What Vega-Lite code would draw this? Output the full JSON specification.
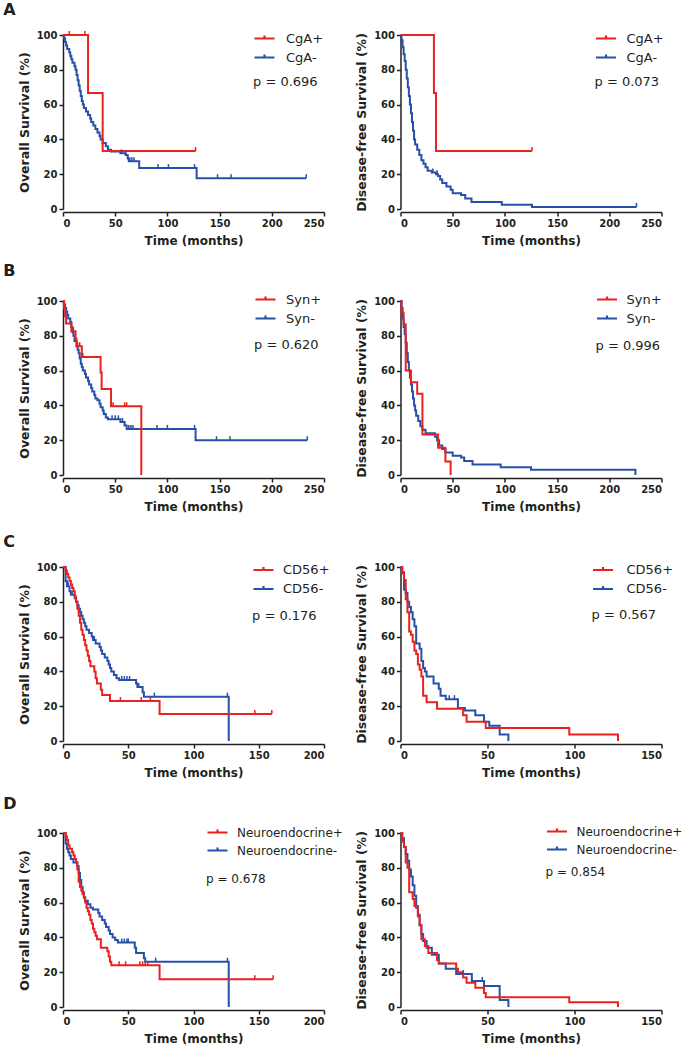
{
"$schema": "https://vega.github.io/schema/vega-lite/v6.json",
"padding": {"left": 3, "top": 2, "right": 2, "bottom": 2},
"background": "white",
"config": {
 "font": "DejaVu Sans",
 "view": {"stroke": null},
 "axis": {"grid": false, "domainColor": "#231f20", "domainWidth": 1.5, "tickColor": "#231f20", "tickWidth": 1.5, "tickSize": 4, "labelFont": "DejaVu Sans", "labelFontWeight": "bold", "labelFontSize": 10, "labelColor": "#231f20", "labelPadding": 2, "titleFont": "DejaVu Sans", "titleFontWeight": "bold", "titleFontSize": 12.5, "titleColor": "#231f20"},
 "axisX": {"offset": 3, "titlePadding": 7, "titleFontSize": 12},
 "axisY": {"titlePadding": 5},
 "legend": {"labelFont": "DejaVu Sans", "labelFontSize": 13, "labelColor": "#231f20", "symbolType": "M-1,0H1M0,0V-0.3", "symbolSize": 400, "symbolStrokeWidth": 2.2, "rowPadding": 0, "padding": 0, "orient": "none", "titleOrient": "bottom", "titleAnchor": "start", "titleFont": "DejaVu Sans", "titleFontWeight": "normal", "titleFontSize": 13, "titleColor": "#231f20", "titlePadding": 12, "titleLimit": 300},
 "title": {"anchor": "start", "frame": "bounds", "fontSize": 16, "fontWeight": "bold", "dx": -15, "offset": 9, "color": "#231f20", "font": "DejaVu Sans"}
},
"datasets": {
 "a1": [
  {"g":"CgA-","t":0,"s":100,"k":"s"},{"g":"CgA-","t":1,"s":98,"k":"s"},{"g":"CgA-","t":2,"s":96,"k":"s"},{"g":"CgA-","t":3,"s":94,"k":"s"},{"g":"CgA-","t":4,"s":92,"k":"s"},{"g":"CgA-","t":6,"s":90,"k":"s"},{"g":"CgA-","t":7,"s":88,"k":"s"},{"g":"CgA-","t":8,"s":86,"k":"s"},{"g":"CgA-","t":9,"s":84,"k":"s"},{"g":"CgA-","t":11,"s":82,"k":"s"},{"g":"CgA-","t":12,"s":80,"k":"s"},{"g":"CgA-","t":13,"s":77,"k":"s"},{"g":"CgA-","t":14,"s":74,"k":"s"},{"g":"CgA-","t":15,"s":71,"k":"s"},{"g":"CgA-","t":16,"s":68,"k":"s"},{"g":"CgA-","t":17,"s":65,"k":"s"},{"g":"CgA-","t":18,"s":62,"k":"s"},{"g":"CgA-","t":19,"s":60,"k":"s"},{"g":"CgA-","t":20,"s":58,"k":"s"},{"g":"CgA-","t":22,"s":56,"k":"s"},{"g":"CgA-","t":24,"s":54,"k":"s"},{"g":"CgA-","t":26,"s":52,"k":"s"},{"g":"CgA-","t":27,"s":50,"k":"s"},{"g":"CgA-","t":29,"s":48,"k":"s"},{"g":"CgA-","t":31,"s":46,"k":"s"},{"g":"CgA-","t":33,"s":44,"k":"s"},{"g":"CgA-","t":35,"s":42,"k":"s"},{"g":"CgA-","t":36,"s":40,"k":"s"},{"g":"CgA-","t":38,"s":38,"k":"s"},{"g":"CgA-","t":41,"s":36,"k":"s"},{"g":"CgA-","t":43,"s":34,"k":"s"},{"g":"CgA-","t":46,"s":33,"k":"s"},{"g":"CgA-","t":55,"s":32,"k":"s"},{"g":"CgA-","t":60,"s":31,"k":"s"},{"g":"CgA-","t":62,"s":29,"k":"s"},{"g":"CgA-","t":63,"s":27.5,"k":"s"},{"g":"CgA-","t":73,"s":23.5,"k":"s"},{"g":"CgA-","t":128,"s":17.7,"k":"s"},{"g":"CgA-","t":233,"s":17.7,"k":"s"},
  {"g":"CgA-","t":56,"s":32,"k":"c"},{"g":"CgA-","t":60,"s":31,"k":"c"},{"g":"CgA-","t":64,"s":27.5,"k":"c"},{"g":"CgA-","t":66,"s":27.5,"k":"c"},{"g":"CgA-","t":68,"s":27.5,"k":"c"},{"g":"CgA-","t":91,"s":23.5,"k":"c"},{"g":"CgA-","t":101,"s":23.5,"k":"c"},{"g":"CgA-","t":126,"s":23.5,"k":"c"},{"g":"CgA-","t":148,"s":17.7,"k":"c"},{"g":"CgA-","t":161,"s":17.7,"k":"c"},{"g":"CgA-","t":233,"s":17.7,"k":"c"},
  {"g":"CgA+","t":0,"s":100,"k":"s"},{"g":"CgA+","t":24,"s":66.7,"k":"s"},{"g":"CgA+","t":38,"s":33.3,"k":"s"},{"g":"CgA+","t":127,"s":33.3,"k":"s"},
  {"g":"CgA+","t":6,"s":100,"k":"c"},{"g":"CgA+","t":21,"s":100,"k":"c"},{"g":"CgA+","t":127,"s":33.3,"k":"c"}
 ],
 "a2": [
  {"g":"CgA-","t":0,"s":100,"k":"s"},{"g":"CgA-","t":1,"s":97,"k":"s"},{"g":"CgA-","t":2,"s":93,"k":"s"},{"g":"CgA-","t":3,"s":89,"k":"s"},{"g":"CgA-","t":4,"s":85,"k":"s"},{"g":"CgA-","t":5,"s":80,"k":"s"},{"g":"CgA-","t":6,"s":75,"k":"s"},{"g":"CgA-","t":7,"s":70,"k":"s"},{"g":"CgA-","t":8,"s":65,"k":"s"},{"g":"CgA-","t":9,"s":60,"k":"s"},{"g":"CgA-","t":10,"s":55,"k":"s"},{"g":"CgA-","t":11,"s":50,"k":"s"},{"g":"CgA-","t":12,"s":45,"k":"s"},{"g":"CgA-","t":13,"s":40,"k":"s"},{"g":"CgA-","t":14,"s":37,"k":"s"},{"g":"CgA-","t":16,"s":34,"k":"s"},{"g":"CgA-","t":18,"s":31,"k":"s"},{"g":"CgA-","t":20,"s":28,"k":"s"},{"g":"CgA-","t":22,"s":26,"k":"s"},{"g":"CgA-","t":24,"s":24,"k":"s"},{"g":"CgA-","t":26,"s":22,"k":"s"},{"g":"CgA-","t":30,"s":21,"k":"s"},{"g":"CgA-","t":34,"s":20,"k":"s"},{"g":"CgA-","t":36,"s":19,"k":"s"},{"g":"CgA-","t":38,"s":17,"k":"s"},{"g":"CgA-","t":40,"s":15,"k":"s"},{"g":"CgA-","t":44,"s":13,"k":"s"},{"g":"CgA-","t":48,"s":11,"k":"s"},{"g":"CgA-","t":50,"s":9,"k":"s"},{"g":"CgA-","t":58,"s":8,"k":"s"},{"g":"CgA-","t":62,"s":6,"k":"s"},{"g":"CgA-","t":68,"s":4,"k":"s"},{"g":"CgA-","t":97,"s":2.5,"k":"s"},{"g":"CgA-","t":126,"s":1.2,"k":"s"},{"g":"CgA-","t":226,"s":1.2,"k":"s"},
  {"g":"CgA-","t":31,"s":21,"k":"c"},{"g":"CgA-","t":35,"s":20,"k":"c"},{"g":"CgA-","t":226,"s":1.2,"k":"c"},
  {"g":"CgA+","t":0,"s":100,"k":"s"},{"g":"CgA+","t":32,"s":66.7,"k":"s"},{"g":"CgA+","t":34,"s":33.3,"k":"s"},{"g":"CgA+","t":126,"s":33.3,"k":"s"},
  {"g":"CgA+","t":126,"s":33.3,"k":"c"}
 ],
 "b1": [
  {"g":"Syn-","t":0,"s":100,"k":"s"},{"g":"Syn-","t":1,"s":98,"k":"s"},{"g":"Syn-","t":2,"s":96,"k":"s"},{"g":"Syn-","t":3,"s":94,"k":"s"},{"g":"Syn-","t":4,"s":92,"k":"s"},{"g":"Syn-","t":5,"s":90,"k":"s"},{"g":"Syn-","t":7,"s":88,"k":"s"},{"g":"Syn-","t":8,"s":85,"k":"s"},{"g":"Syn-","t":9,"s":82,"k":"s"},{"g":"Syn-","t":10,"s":80,"k":"s"},{"g":"Syn-","t":11,"s":77,"k":"s"},{"g":"Syn-","t":13,"s":74,"k":"s"},{"g":"Syn-","t":14,"s":72,"k":"s"},{"g":"Syn-","t":15,"s":70,"k":"s"},{"g":"Syn-","t":16,"s":67,"k":"s"},{"g":"Syn-","t":17,"s":64,"k":"s"},{"g":"Syn-","t":18,"s":62,"k":"s"},{"g":"Syn-","t":19,"s":60,"k":"s"},{"g":"Syn-","t":21,"s":58,"k":"s"},{"g":"Syn-","t":22,"s":56,"k":"s"},{"g":"Syn-","t":24,"s":54,"k":"s"},{"g":"Syn-","t":25,"s":52,"k":"s"},{"g":"Syn-","t":27,"s":50,"k":"s"},{"g":"Syn-","t":28,"s":48,"k":"s"},{"g":"Syn-","t":30,"s":46,"k":"s"},{"g":"Syn-","t":31,"s":44,"k":"s"},{"g":"Syn-","t":33,"s":43,"k":"s"},{"g":"Syn-","t":35,"s":41,"k":"s"},{"g":"Syn-","t":36,"s":39,"k":"s"},{"g":"Syn-","t":38,"s":37,"k":"s"},{"g":"Syn-","t":39,"s":35,"k":"s"},{"g":"Syn-","t":41,"s":33,"k":"s"},{"g":"Syn-","t":43,"s":32,"k":"s"},{"g":"Syn-","t":55,"s":30.5,"k":"s"},{"g":"Syn-","t":59,"s":28.5,"k":"s"},{"g":"Syn-","t":61,"s":26.5,"k":"s"},{"g":"Syn-","t":127,"s":20,"k":"s"},{"g":"Syn-","t":234,"s":20,"k":"s"},
  {"g":"Syn-","t":47,"s":32,"k":"c"},{"g":"Syn-","t":50,"s":32,"k":"c"},{"g":"Syn-","t":53,"s":32,"k":"c"},{"g":"Syn-","t":57,"s":30.5,"k":"c"},{"g":"Syn-","t":63,"s":26.5,"k":"c"},{"g":"Syn-","t":65,"s":26.5,"k":"c"},{"g":"Syn-","t":67,"s":26.5,"k":"c"},{"g":"Syn-","t":90,"s":26.5,"k":"c"},{"g":"Syn-","t":100,"s":26.5,"k":"c"},{"g":"Syn-","t":126,"s":26.5,"k":"c"},{"g":"Syn-","t":147,"s":20,"k":"c"},{"g":"Syn-","t":160,"s":20,"k":"c"},{"g":"Syn-","t":234,"s":20,"k":"c"},
  {"g":"Syn+","t":0,"s":100,"k":"s"},{"g":"Syn+","t":1,"s":95.7,"k":"s"},{"g":"Syn+","t":2,"s":91.3,"k":"s"},{"g":"Syn+","t":3,"s":87,"k":"s"},{"g":"Syn+","t":8,"s":82.6,"k":"s"},{"g":"Syn+","t":12,"s":78.3,"k":"s"},{"g":"Syn+","t":13,"s":74,"k":"s"},{"g":"Syn+","t":18,"s":67.8,"k":"s"},{"g":"Syn+","t":36,"s":58.9,"k":"s"},{"g":"Syn+","t":37,"s":49.4,"k":"s"},{"g":"Syn+","t":46,"s":39.5,"k":"s"},{"g":"Syn+","t":75,"s":0,"k":"s"},
  {"g":"Syn+","t":10,"s":82.6,"k":"c"},{"g":"Syn+","t":14,"s":74,"k":"c"},{"g":"Syn+","t":16,"s":74,"k":"c"},{"g":"Syn+","t":19,"s":67.8,"k":"c"},{"g":"Syn+","t":48,"s":39.5,"k":"c"},{"g":"Syn+","t":59,"s":39.5,"k":"c"},{"g":"Syn+","t":61,"s":39.5,"k":"c"}
 ],
 "b2": [
  {"g":"Syn-","t":0,"s":100,"k":"s"},{"g":"Syn-","t":1,"s":96,"k":"s"},{"g":"Syn-","t":2,"s":90,"k":"s"},{"g":"Syn-","t":3,"s":85,"k":"s"},{"g":"Syn-","t":4,"s":81,"k":"s"},{"g":"Syn-","t":5,"s":76,"k":"s"},{"g":"Syn-","t":6,"s":70,"k":"s"},{"g":"Syn-","t":7,"s":65,"k":"s"},{"g":"Syn-","t":8,"s":60,"k":"s"},{"g":"Syn-","t":9,"s":56,"k":"s"},{"g":"Syn-","t":10,"s":52,"k":"s"},{"g":"Syn-","t":11,"s":48,"k":"s"},{"g":"Syn-","t":12,"s":44,"k":"s"},{"g":"Syn-","t":13,"s":40,"k":"s"},{"g":"Syn-","t":14,"s":37,"k":"s"},{"g":"Syn-","t":15,"s":34,"k":"s"},{"g":"Syn-","t":17,"s":31,"k":"s"},{"g":"Syn-","t":19,"s":28,"k":"s"},{"g":"Syn-","t":21,"s":26,"k":"s"},{"g":"Syn-","t":24,"s":24,"k":"s"},{"g":"Syn-","t":33,"s":22,"k":"s"},{"g":"Syn-","t":35,"s":20,"k":"s"},{"g":"Syn-","t":37,"s":17,"k":"s"},{"g":"Syn-","t":40,"s":15,"k":"s"},{"g":"Syn-","t":43,"s":13,"k":"s"},{"g":"Syn-","t":50,"s":11,"k":"s"},{"g":"Syn-","t":58,"s":10,"k":"s"},{"g":"Syn-","t":61,"s":8,"k":"s"},{"g":"Syn-","t":69,"s":6,"k":"s"},{"g":"Syn-","t":96,"s":4.5,"k":"s"},{"g":"Syn-","t":125,"s":3,"k":"s"},{"g":"Syn-","t":225,"s":0,"k":"s"},
  {"g":"Syn+","t":0,"s":100,"k":"s"},{"g":"Syn+","t":1,"s":93.3,"k":"s"},{"g":"Syn+","t":3,"s":86.7,"k":"s"},{"g":"Syn+","t":5,"s":60,"k":"s"},{"g":"Syn+","t":10,"s":53.3,"k":"s"},{"g":"Syn+","t":16,"s":46.7,"k":"s"},{"g":"Syn+","t":21,"s":23.3,"k":"s"},{"g":"Syn+","t":36,"s":15.6,"k":"s"},{"g":"Syn+","t":43,"s":7.8,"k":"s"},{"g":"Syn+","t":48,"s":0,"k":"s"}
 ],
 "c1": [
  {"g":"CD56-","t":0,"s":100,"k":"s"},{"g":"CD56-","t":2,"s":92,"k":"s"},{"g":"CD56-","t":3,"s":89,"k":"s"},{"g":"CD56-","t":5,"s":86,"k":"s"},{"g":"CD56-","t":6,"s":84,"k":"s"},{"g":"CD56-","t":9,"s":82,"k":"s"},{"g":"CD56-","t":10,"s":80,"k":"s"},{"g":"CD56-","t":11,"s":78,"k":"s"},{"g":"CD56-","t":12,"s":76,"k":"s"},{"g":"CD56-","t":13,"s":74,"k":"s"},{"g":"CD56-","t":14,"s":72,"k":"s"},{"g":"CD56-","t":15,"s":70,"k":"s"},{"g":"CD56-","t":16,"s":68,"k":"s"},{"g":"CD56-","t":17,"s":66,"k":"s"},{"g":"CD56-","t":18,"s":64,"k":"s"},{"g":"CD56-","t":20,"s":62,"k":"s"},{"g":"CD56-","t":22,"s":60,"k":"s"},{"g":"CD56-","t":23,"s":58,"k":"s"},{"g":"CD56-","t":25,"s":56,"k":"s"},{"g":"CD56-","t":28,"s":54,"k":"s"},{"g":"CD56-","t":29,"s":52,"k":"s"},{"g":"CD56-","t":30,"s":50,"k":"s"},{"g":"CD56-","t":32,"s":48,"k":"s"},{"g":"CD56-","t":34,"s":46,"k":"s"},{"g":"CD56-","t":35,"s":44,"k":"s"},{"g":"CD56-","t":36,"s":42,"k":"s"},{"g":"CD56-","t":37,"s":40,"k":"s"},{"g":"CD56-","t":39,"s":38,"k":"s"},{"g":"CD56-","t":41,"s":36,"k":"s"},{"g":"CD56-","t":43,"s":35,"k":"s"},{"g":"CD56-","t":56,"s":33,"k":"s"},{"g":"CD56-","t":57,"s":31,"k":"s"},{"g":"CD56-","t":61,"s":28,"k":"s"},{"g":"CD56-","t":62,"s":25.5,"k":"s"},{"g":"CD56-","t":127,"s":0,"k":"s"},
  {"g":"CD56-","t":4,"s":89,"k":"c"},{"g":"CD56-","t":7,"s":84,"k":"c"},{"g":"CD56-","t":14,"s":72,"k":"c"},{"g":"CD56-","t":24,"s":58,"k":"c"},{"g":"CD56-","t":45,"s":35,"k":"c"},{"g":"CD56-","t":47,"s":35,"k":"c"},{"g":"CD56-","t":49,"s":35,"k":"c"},{"g":"CD56-","t":51,"s":35,"k":"c"},{"g":"CD56-","t":58,"s":31,"k":"c"},{"g":"CD56-","t":70,"s":25.5,"k":"c"},{"g":"CD56-","t":126,"s":25.5,"k":"c"},
  {"g":"CD56+","t":0,"s":100,"k":"s"},{"g":"CD56+","t":2,"s":98,"k":"s"},{"g":"CD56+","t":3,"s":96,"k":"s"},{"g":"CD56+","t":4,"s":94,"k":"s"},{"g":"CD56+","t":5,"s":92,"k":"s"},{"g":"CD56+","t":6,"s":90,"k":"s"},{"g":"CD56+","t":7,"s":88,"k":"s"},{"g":"CD56+","t":8,"s":86,"k":"s"},{"g":"CD56+","t":9,"s":83,"k":"s"},{"g":"CD56+","t":10,"s":80,"k":"s"},{"g":"CD56+","t":11,"s":76,"k":"s"},{"g":"CD56+","t":12,"s":72,"k":"s"},{"g":"CD56+","t":13,"s":68,"k":"s"},{"g":"CD56+","t":14,"s":64,"k":"s"},{"g":"CD56+","t":15,"s":61,"k":"s"},{"g":"CD56+","t":16,"s":58,"k":"s"},{"g":"CD56+","t":17,"s":55,"k":"s"},{"g":"CD56+","t":18,"s":52,"k":"s"},{"g":"CD56+","t":19,"s":49,"k":"s"},{"g":"CD56+","t":20,"s":46,"k":"s"},{"g":"CD56+","t":21,"s":43,"k":"s"},{"g":"CD56+","t":24,"s":40,"k":"s"},{"g":"CD56+","t":25,"s":36,"k":"s"},{"g":"CD56+","t":26,"s":33,"k":"s"},{"g":"CD56+","t":29,"s":29.5,"k":"s"},{"g":"CD56+","t":30,"s":26.5,"k":"s"},{"g":"CD56+","t":36,"s":23,"k":"s"},{"g":"CD56+","t":74,"s":15.5,"k":"s"},{"g":"CD56+","t":160,"s":15.5,"k":"s"},
  {"g":"CD56+","t":44,"s":23,"k":"c"},{"g":"CD56+","t":60,"s":23,"k":"c"},{"g":"CD56+","t":67,"s":23,"k":"c"},{"g":"CD56+","t":147,"s":15.5,"k":"c"},{"g":"CD56+","t":160,"s":15.5,"k":"c"}
 ],
 "c2": [
  {"g":"CD56-","t":0,"s":100,"k":"s"},{"g":"CD56-","t":1,"s":97,"k":"s"},{"g":"CD56-","t":2,"s":87,"k":"s"},{"g":"CD56-","t":3,"s":85,"k":"s"},{"g":"CD56-","t":4,"s":80,"k":"s"},{"g":"CD56-","t":5,"s":77,"k":"s"},{"g":"CD56-","t":6,"s":74,"k":"s"},{"g":"CD56-","t":7,"s":70,"k":"s"},{"g":"CD56-","t":8,"s":66,"k":"s"},{"g":"CD56-","t":9,"s":56,"k":"s"},{"g":"CD56-","t":11,"s":53,"k":"s"},{"g":"CD56-","t":12,"s":46,"k":"s"},{"g":"CD56-","t":13,"s":42,"k":"s"},{"g":"CD56-","t":14,"s":40,"k":"s"},{"g":"CD56-","t":15,"s":37,"k":"s"},{"g":"CD56-","t":19,"s":33,"k":"s"},{"g":"CD56-","t":22,"s":30,"k":"s"},{"g":"CD56-","t":23,"s":26,"k":"s"},{"g":"CD56-","t":26,"s":24,"k":"s"},{"g":"CD56-","t":33,"s":19,"k":"s"},{"g":"CD56-","t":37,"s":17.5,"k":"s"},{"g":"CD56-","t":43,"s":14.8,"k":"s"},{"g":"CD56-","t":48,"s":11,"k":"s"},{"g":"CD56-","t":51,"s":8.8,"k":"s"},{"g":"CD56-","t":57,"s":3.7,"k":"s"},{"g":"CD56-","t":62,"s":0,"k":"s"},
  {"g":"CD56-","t":28,"s":24,"k":"c"},{"g":"CD56-","t":31,"s":24,"k":"c"},
  {"g":"CD56+","t":0,"s":100,"k":"s"},{"g":"CD56+","t":1,"s":96.3,"k":"s"},{"g":"CD56+","t":2,"s":92.6,"k":"s"},{"g":"CD56+","t":3,"s":81.5,"k":"s"},{"g":"CD56+","t":4,"s":74,"k":"s"},{"g":"CD56+","t":5,"s":63,"k":"s"},{"g":"CD56+","t":6,"s":61,"k":"s"},{"g":"CD56+","t":7,"s":57,"k":"s"},{"g":"CD56+","t":8,"s":52,"k":"s"},{"g":"CD56+","t":9,"s":50,"k":"s"},{"g":"CD56+","t":10,"s":44,"k":"s"},{"g":"CD56+","t":11,"s":41,"k":"s"},{"g":"CD56+","t":12,"s":37,"k":"s"},{"g":"CD56+","t":13,"s":26,"k":"s"},{"g":"CD56+","t":15,"s":22.2,"k":"s"},{"g":"CD56+","t":21,"s":18.5,"k":"s"},{"g":"CD56+","t":36,"s":14.8,"k":"s"},{"g":"CD56+","t":38,"s":11.1,"k":"s"},{"g":"CD56+","t":49,"s":7.4,"k":"s"},{"g":"CD56+","t":97,"s":3.7,"k":"s"},{"g":"CD56+","t":125,"s":0,"k":"s"}
 ],
 "d1": [
  {"g":"Neuroendocrine-","t":0,"s":100,"k":"s"},{"g":"Neuroendocrine-","t":2,"s":94,"k":"s"},{"g":"Neuroendocrine-","t":3,"s":91,"k":"s"},{"g":"Neuroendocrine-","t":4,"s":89,"k":"s"},{"g":"Neuroendocrine-","t":5,"s":87,"k":"s"},{"g":"Neuroendocrine-","t":6,"s":85,"k":"s"},{"g":"Neuroendocrine-","t":8,"s":83,"k":"s"},{"g":"Neuroendocrine-","t":11,"s":81,"k":"s"},{"g":"Neuroendocrine-","t":12,"s":77,"k":"s"},{"g":"Neuroendocrine-","t":13,"s":73,"k":"s"},{"g":"Neuroendocrine-","t":14,"s":69,"k":"s"},{"g":"Neuroendocrine-","t":15,"s":66,"k":"s"},{"g":"Neuroendocrine-","t":16,"s":63,"k":"s"},{"g":"Neuroendocrine-","t":17,"s":61,"k":"s"},{"g":"Neuroendocrine-","t":19,"s":59,"k":"s"},{"g":"Neuroendocrine-","t":21,"s":57,"k":"s"},{"g":"Neuroendocrine-","t":23,"s":56,"k":"s"},{"g":"Neuroendocrine-","t":27,"s":54,"k":"s"},{"g":"Neuroendocrine-","t":28,"s":52,"k":"s"},{"g":"Neuroendocrine-","t":30,"s":50,"k":"s"},{"g":"Neuroendocrine-","t":32,"s":48,"k":"s"},{"g":"Neuroendocrine-","t":33,"s":46,"k":"s"},{"g":"Neuroendocrine-","t":35,"s":44,"k":"s"},{"g":"Neuroendocrine-","t":36,"s":42,"k":"s"},{"g":"Neuroendocrine-","t":38,"s":40,"k":"s"},{"g":"Neuroendocrine-","t":40,"s":38.5,"k":"s"},{"g":"Neuroendocrine-","t":42,"s":37,"k":"s"},{"g":"Neuroendocrine-","t":55,"s":34,"k":"s"},{"g":"Neuroendocrine-","t":56,"s":31,"k":"s"},{"g":"Neuroendocrine-","t":62,"s":28,"k":"s"},{"g":"Neuroendocrine-","t":63,"s":26,"k":"s"},{"g":"Neuroendocrine-","t":127,"s":0,"k":"s"},
  {"g":"Neuroendocrine-","t":45,"s":37,"k":"c"},{"g":"Neuroendocrine-","t":47,"s":37,"k":"c"},{"g":"Neuroendocrine-","t":49,"s":37,"k":"c"},{"g":"Neuroendocrine-","t":50,"s":37,"k":"c"},{"g":"Neuroendocrine-","t":71,"s":26,"k":"c"},{"g":"Neuroendocrine-","t":126,"s":26,"k":"c"},
  {"g":"Neuroendocrine+","t":0,"s":100,"k":"s"},{"g":"Neuroendocrine+","t":2,"s":98,"k":"s"},{"g":"Neuroendocrine+","t":3,"s":96,"k":"s"},{"g":"Neuroendocrine+","t":4,"s":93,"k":"s"},{"g":"Neuroendocrine+","t":5,"s":91,"k":"s"},{"g":"Neuroendocrine+","t":7,"s":89,"k":"s"},{"g":"Neuroendocrine+","t":8,"s":87,"k":"s"},{"g":"Neuroendocrine+","t":9,"s":85,"k":"s"},{"g":"Neuroendocrine+","t":10,"s":83,"k":"s"},{"g":"Neuroendocrine+","t":11,"s":79,"k":"s"},{"g":"Neuroendocrine+","t":12,"s":72,"k":"s"},{"g":"Neuroendocrine+","t":13,"s":69,"k":"s"},{"g":"Neuroendocrine+","t":14,"s":67,"k":"s"},{"g":"Neuroendocrine+","t":15,"s":65,"k":"s"},{"g":"Neuroendocrine+","t":16,"s":63,"k":"s"},{"g":"Neuroendocrine+","t":17,"s":60,"k":"s"},{"g":"Neuroendocrine+","t":18,"s":57,"k":"s"},{"g":"Neuroendocrine+","t":19,"s":55,"k":"s"},{"g":"Neuroendocrine+","t":20,"s":53,"k":"s"},{"g":"Neuroendocrine+","t":21,"s":50,"k":"s"},{"g":"Neuroendocrine+","t":22,"s":48,"k":"s"},{"g":"Neuroendocrine+","t":23,"s":45,"k":"s"},{"g":"Neuroendocrine+","t":24,"s":43,"k":"s"},{"g":"Neuroendocrine+","t":25,"s":41,"k":"s"},{"g":"Neuroendocrine+","t":26,"s":39,"k":"s"},{"g":"Neuroendocrine+","t":29,"s":34,"k":"s"},{"g":"Neuroendocrine+","t":34,"s":32,"k":"s"},{"g":"Neuroendocrine+","t":35,"s":29,"k":"s"},{"g":"Neuroendocrine+","t":36,"s":26,"k":"s"},{"g":"Neuroendocrine+","t":37,"s":24,"k":"s"},{"g":"Neuroendocrine+","t":74,"s":16,"k":"s"},{"g":"Neuroendocrine+","t":161,"s":16,"k":"s"},
  {"g":"Neuroendocrine+","t":43,"s":24,"k":"c"},{"g":"Neuroendocrine+","t":48,"s":24,"k":"c"},{"g":"Neuroendocrine+","t":59,"s":24,"k":"c"},{"g":"Neuroendocrine+","t":61,"s":24,"k":"c"},{"g":"Neuroendocrine+","t":63,"s":24,"k":"c"},{"g":"Neuroendocrine+","t":65,"s":24,"k":"c"},{"g":"Neuroendocrine+","t":147,"s":16,"k":"c"},{"g":"Neuroendocrine+","t":161,"s":16,"k":"c"}
 ],
 "d2": [
  {"g":"Neuroendocrine-","t":0,"s":100,"k":"s"},{"g":"Neuroendocrine-","t":1,"s":97,"k":"s"},{"g":"Neuroendocrine-","t":2,"s":92,"k":"s"},{"g":"Neuroendocrine-","t":3,"s":88,"k":"s"},{"g":"Neuroendocrine-","t":4,"s":84,"k":"s"},{"g":"Neuroendocrine-","t":5,"s":79,"k":"s"},{"g":"Neuroendocrine-","t":6,"s":75,"k":"s"},{"g":"Neuroendocrine-","t":7,"s":70,"k":"s"},{"g":"Neuroendocrine-","t":8,"s":64,"k":"s"},{"g":"Neuroendocrine-","t":9,"s":57,"k":"s"},{"g":"Neuroendocrine-","t":10,"s":53,"k":"s"},{"g":"Neuroendocrine-","t":11,"s":47,"k":"s"},{"g":"Neuroendocrine-","t":12,"s":42,"k":"s"},{"g":"Neuroendocrine-","t":13,"s":38,"k":"s"},{"g":"Neuroendocrine-","t":15,"s":34,"k":"s"},{"g":"Neuroendocrine-","t":18,"s":30,"k":"s"},{"g":"Neuroendocrine-","t":22,"s":25,"k":"s"},{"g":"Neuroendocrine-","t":26,"s":22,"k":"s"},{"g":"Neuroendocrine-","t":32,"s":19,"k":"s"},{"g":"Neuroendocrine-","t":41,"s":15,"k":"s"},{"g":"Neuroendocrine-","t":48,"s":12,"k":"s"},{"g":"Neuroendocrine-","t":57,"s":4,"k":"s"},{"g":"Neuroendocrine-","t":62,"s":0,"k":"s"},
  {"g":"Neuroendocrine-","t":36,"s":19,"k":"c"},{"g":"Neuroendocrine-","t":47,"s":15,"k":"c"},
  {"g":"Neuroendocrine+","t":0,"s":100,"k":"s"},{"g":"Neuroendocrine+","t":1,"s":95,"k":"s"},{"g":"Neuroendocrine+","t":2,"s":92,"k":"s"},{"g":"Neuroendocrine+","t":3,"s":83,"k":"s"},{"g":"Neuroendocrine+","t":4,"s":80,"k":"s"},{"g":"Neuroendocrine+","t":5,"s":66,"k":"s"},{"g":"Neuroendocrine+","t":7,"s":62,"k":"s"},{"g":"Neuroendocrine+","t":8,"s":58,"k":"s"},{"g":"Neuroendocrine+","t":10,"s":52,"k":"s"},{"g":"Neuroendocrine+","t":11,"s":47,"k":"s"},{"g":"Neuroendocrine+","t":12,"s":39,"k":"s"},{"g":"Neuroendocrine+","t":14,"s":35,"k":"s"},{"g":"Neuroendocrine+","t":16,"s":31,"k":"s"},{"g":"Neuroendocrine+","t":21,"s":27,"k":"s"},{"g":"Neuroendocrine+","t":22,"s":25,"k":"s"},{"g":"Neuroendocrine+","t":32,"s":22,"k":"s"},{"g":"Neuroendocrine+","t":33,"s":20,"k":"s"},{"g":"Neuroendocrine+","t":36,"s":17,"k":"s"},{"g":"Neuroendocrine+","t":38,"s":14,"k":"s"},{"g":"Neuroendocrine+","t":43,"s":11,"k":"s"},{"g":"Neuroendocrine+","t":48,"s":8,"k":"s"},{"g":"Neuroendocrine+","t":49,"s":5.6,"k":"s"},{"g":"Neuroendocrine+","t":97,"s":2.8,"k":"s"},{"g":"Neuroendocrine+","t":125,"s":0,"k":"s"}
 ]
},
"resolve": {"scale": {"color": "independent"}, "legend": {"color": "independent"}},
"bounds": "flush",
"columns": 2,
"spacing": {"row": 92, "column": 76.5},
"concat": [
 {"width": 261, "height": 174, "title": {"text": "A"}, "data": {"name": "a1"},
  "encoding": {
   "x": {"field": "t", "type": "quantitative", "scale": {"domain": [0, 250], "nice": false}, "axis": {"values": [0, 50, 100, 150, 200, 250], "title": "Time (months)"}},
   "y": {"field": "s", "type": "quantitative", "scale": {"domain": [0, 100], "nice": false}, "axis": {"values": [0, 20, 40, 60, 80, 100], "title": "Overall Survival (%)"}},
   "color": {"field": "g", "type": "nominal", "scale": {"domain": ["CgA+", "CgA-"], "range": ["#e8221f", "#2850a8"]}, "legend": {"title": "p = 0.696", "legendX": 190, "legendY": -8, "labelOffset": 10, "titlePadding": 11}}},
  "layer": [
   {"transform": [{"filter": "datum.k=='s'"}], "mark": {"type": "line", "interpolate": "step-after", "strokeWidth": 2}, "encoding": {}},
   {"transform": [{"filter": "datum.k=='c'"}], "mark": {"type": "point", "shape": "M0,0V-1", "size": 64, "filled": false, "strokeWidth": 1.5, "opacity": 1}, "encoding": {}}
  ]},
 {"width": 261, "height": 174, "data": {"name": "a2"},
  "encoding": {
   "x": {"field": "t", "type": "quantitative", "scale": {"domain": [0, 250], "nice": false}, "axis": {"values": [0, 50, 100, 150, 200, 250], "title": "Time (months)"}},
   "y": {"field": "s", "type": "quantitative", "scale": {"domain": [0, 100], "nice": false}, "axis": {"values": [0, 20, 40, 60, 80, 100], "title": "Disease-free Survival (%)"}},
   "color": {"field": "g", "type": "nominal", "scale": {"domain": ["CgA+", "CgA-"], "range": ["#e8221f", "#2850a8"]}, "legend": {"title": "p = 0.073", "legendX": 194, "legendY": -8, "labelOffset": 9, "titlePadding": 11}}},
  "layer": [
   {"transform": [{"filter": "datum.k=='s'"}], "mark": {"type": "line", "interpolate": "step-after", "strokeWidth": 2}, "encoding": {}},
   {"transform": [{"filter": "datum.k=='c'"}], "mark": {"type": "point", "shape": "M0,0V-1", "size": 64, "filled": false, "strokeWidth": 1.5, "opacity": 1}, "encoding": {}}
  ]},
 {"width": 261, "height": 174, "title": {"text": "B"}, "data": {"name": "b1"},
  "encoding": {
   "x": {"field": "t", "type": "quantitative", "scale": {"domain": [0, 250], "nice": false}, "axis": {"values": [0, 50, 100, 150, 200, 250], "title": "Time (months)"}},
   "y": {"field": "s", "type": "quantitative", "scale": {"domain": [0, 100], "nice": false}, "axis": {"values": [0, 20, 40, 60, 80, 100], "title": "Overall Survival (%)"}},
   "color": {"field": "g", "type": "nominal", "scale": {"domain": ["Syn+", "Syn-"], "range": ["#e8221f", "#2850a8"]}, "legend": {"title": "p = 0.620", "legendX": 191, "legendY": -13, "labelOffset": 9, "titlePadding": 13}}},
  "layer": [
   {"transform": [{"filter": "datum.k=='s'"}], "mark": {"type": "line", "interpolate": "step-after", "strokeWidth": 2}, "encoding": {}},
   {"transform": [{"filter": "datum.k=='c'"}], "mark": {"type": "point", "shape": "M0,0V-1", "size": 64, "filled": false, "strokeWidth": 1.5, "opacity": 1}, "encoding": {}}
  ]},
 {"width": 261, "height": 174, "data": {"name": "b2"},
  "encoding": {
   "x": {"field": "t", "type": "quantitative", "scale": {"domain": [0, 250], "nice": false}, "axis": {"values": [0, 50, 100, 150, 200, 250], "title": "Time (months)"}},
   "y": {"field": "s", "type": "quantitative", "scale": {"domain": [0, 100], "nice": false}, "axis": {"values": [0, 20, 40, 60, 80, 100], "title": "Disease-free Survival (%)"}},
   "color": {"field": "g", "type": "nominal", "scale": {"domain": ["Syn+", "Syn-"], "range": ["#e8221f", "#2850a8"]}, "legend": {"title": "p = 0.996", "legendX": 195, "legendY": -13, "labelOffset": 8, "titlePadding": 13.5}}},
  "layer": [
   {"transform": [{"filter": "datum.k=='s'"}], "mark": {"type": "line", "interpolate": "step-after", "strokeWidth": 2}, "encoding": {}},
   {"transform": [{"filter": "datum.k=='c'"}], "mark": {"type": "point", "shape": "M0,0V-1", "size": 64, "filled": false, "strokeWidth": 1.5, "opacity": 1}, "encoding": {}}
  ]},
 {"width": 261, "height": 174, "title": {"text": "C"}, "data": {"name": "c1"},
  "encoding": {
   "x": {"field": "t", "type": "quantitative", "scale": {"domain": [0, 200], "nice": false}, "axis": {"values": [0, 50, 100, 150, 200], "title": "Time (months)"}},
   "y": {"field": "s", "type": "quantitative", "scale": {"domain": [0, 100], "nice": false}, "axis": {"values": [0, 20, 40, 60, 80, 100], "title": "Overall Survival (%)"}},
   "color": {"field": "g", "type": "nominal", "scale": {"domain": ["CD56+", "CD56-"], "range": ["#e8221f", "#2850a8"]}, "legend": {"title": "p = 0.176", "legendX": 189, "legendY": -8.5, "labelOffset": 8, "titlePadding": 13}}},
  "layer": [
   {"transform": [{"filter": "datum.k=='s'"}], "mark": {"type": "line", "interpolate": "step-after", "strokeWidth": 2}, "encoding": {}},
   {"transform": [{"filter": "datum.k=='c'"}], "mark": {"type": "point", "shape": "M0,0V-1", "size": 64, "filled": false, "strokeWidth": 1.5, "opacity": 1}, "encoding": {}}
  ]},
 {"width": 261, "height": 174, "data": {"name": "c2"},
  "encoding": {
   "x": {"field": "t", "type": "quantitative", "scale": {"domain": [0, 150], "nice": false}, "axis": {"values": [0, 50, 100, 150], "title": "Time (months)"}},
   "y": {"field": "s", "type": "quantitative", "scale": {"domain": [0, 100], "nice": false}, "axis": {"values": [0, 20, 40, 60, 80, 100], "title": "Disease-free Survival (%)"}},
   "color": {"field": "g", "type": "nominal", "scale": {"domain": ["CD56+", "CD56-"], "range": ["#e8221f", "#2850a8"]}, "legend": {"title": "p = 0.567", "legendX": 191, "legendY": -8.5, "labelOffset": 12, "titlePadding": 12.5}}},
  "layer": [
   {"transform": [{"filter": "datum.k=='s'"}], "mark": {"type": "line", "interpolate": "step-after", "strokeWidth": 2}, "encoding": {}},
   {"transform": [{"filter": "datum.k=='c'"}], "mark": {"type": "point", "shape": "M0,0V-1", "size": 64, "filled": false, "strokeWidth": 1.5, "opacity": 1}, "encoding": {}}
  ]},
 {"width": 261, "height": 174, "title": {"text": "D"}, "data": {"name": "d1"},
  "encoding": {
   "x": {"field": "t", "type": "quantitative", "scale": {"domain": [0, 200], "nice": false}, "axis": {"values": [0, 50, 100, 150, 200], "title": "Time (months)"}},
   "y": {"field": "s", "type": "quantitative", "scale": {"domain": [0, 100], "nice": false}, "axis": {"values": [0, 20, 40, 60, 80, 100], "title": "Overall Survival (%)"}},
   "color": {"field": "g", "type": "nominal", "scale": {"domain": ["Neuroendocrine+", "Neuroendocrine-"], "range": ["#e8221f", "#2850a8"]}, "legend": {"title": "p = 0.678", "legendX": 143, "legendY": -12, "labelOffset": 8, "labelFontSize": 12, "titleFontSize": 12, "titlePadding": 16.5}}},
  "layer": [
   {"transform": [{"filter": "datum.k=='s'"}], "mark": {"type": "line", "interpolate": "step-after", "strokeWidth": 2}, "encoding": {}},
   {"transform": [{"filter": "datum.k=='c'"}], "mark": {"type": "point", "shape": "M0,0V-1", "size": 64, "filled": false, "strokeWidth": 1.5, "opacity": 1}, "encoding": {}}
  ]},
 {"width": 261, "height": 174, "data": {"name": "d2"},
  "encoding": {
   "x": {"field": "t", "type": "quantitative", "scale": {"domain": [0, 150], "nice": false}, "axis": {"values": [0, 50, 100, 150], "title": "Time (months)"}},
   "y": {"field": "s", "type": "quantitative", "scale": {"domain": [0, 100], "nice": false}, "axis": {"values": [0, 20, 40, 60, 80, 100], "title": "Disease-free Survival (%)"}},
   "color": {"field": "g", "type": "nominal", "scale": {"domain": ["Neuroendocrine+", "Neuroendocrine-"], "range": ["#e8221f", "#2850a8"]}, "legend": {"title": "p = 0.854", "legendX": 145, "legendY": -13, "labelOffset": 8, "labelFontSize": 12, "titleFontSize": 12, "titlePadding": 11}}},
  "layer": [
   {"transform": [{"filter": "datum.k=='s'"}], "mark": {"type": "line", "interpolate": "step-after", "strokeWidth": 2}, "encoding": {}},
   {"transform": [{"filter": "datum.k=='c'"}], "mark": {"type": "point", "shape": "M0,0V-1", "size": 64, "filled": false, "strokeWidth": 1.5, "opacity": 1}, "encoding": {}}
  ]}
]
}
